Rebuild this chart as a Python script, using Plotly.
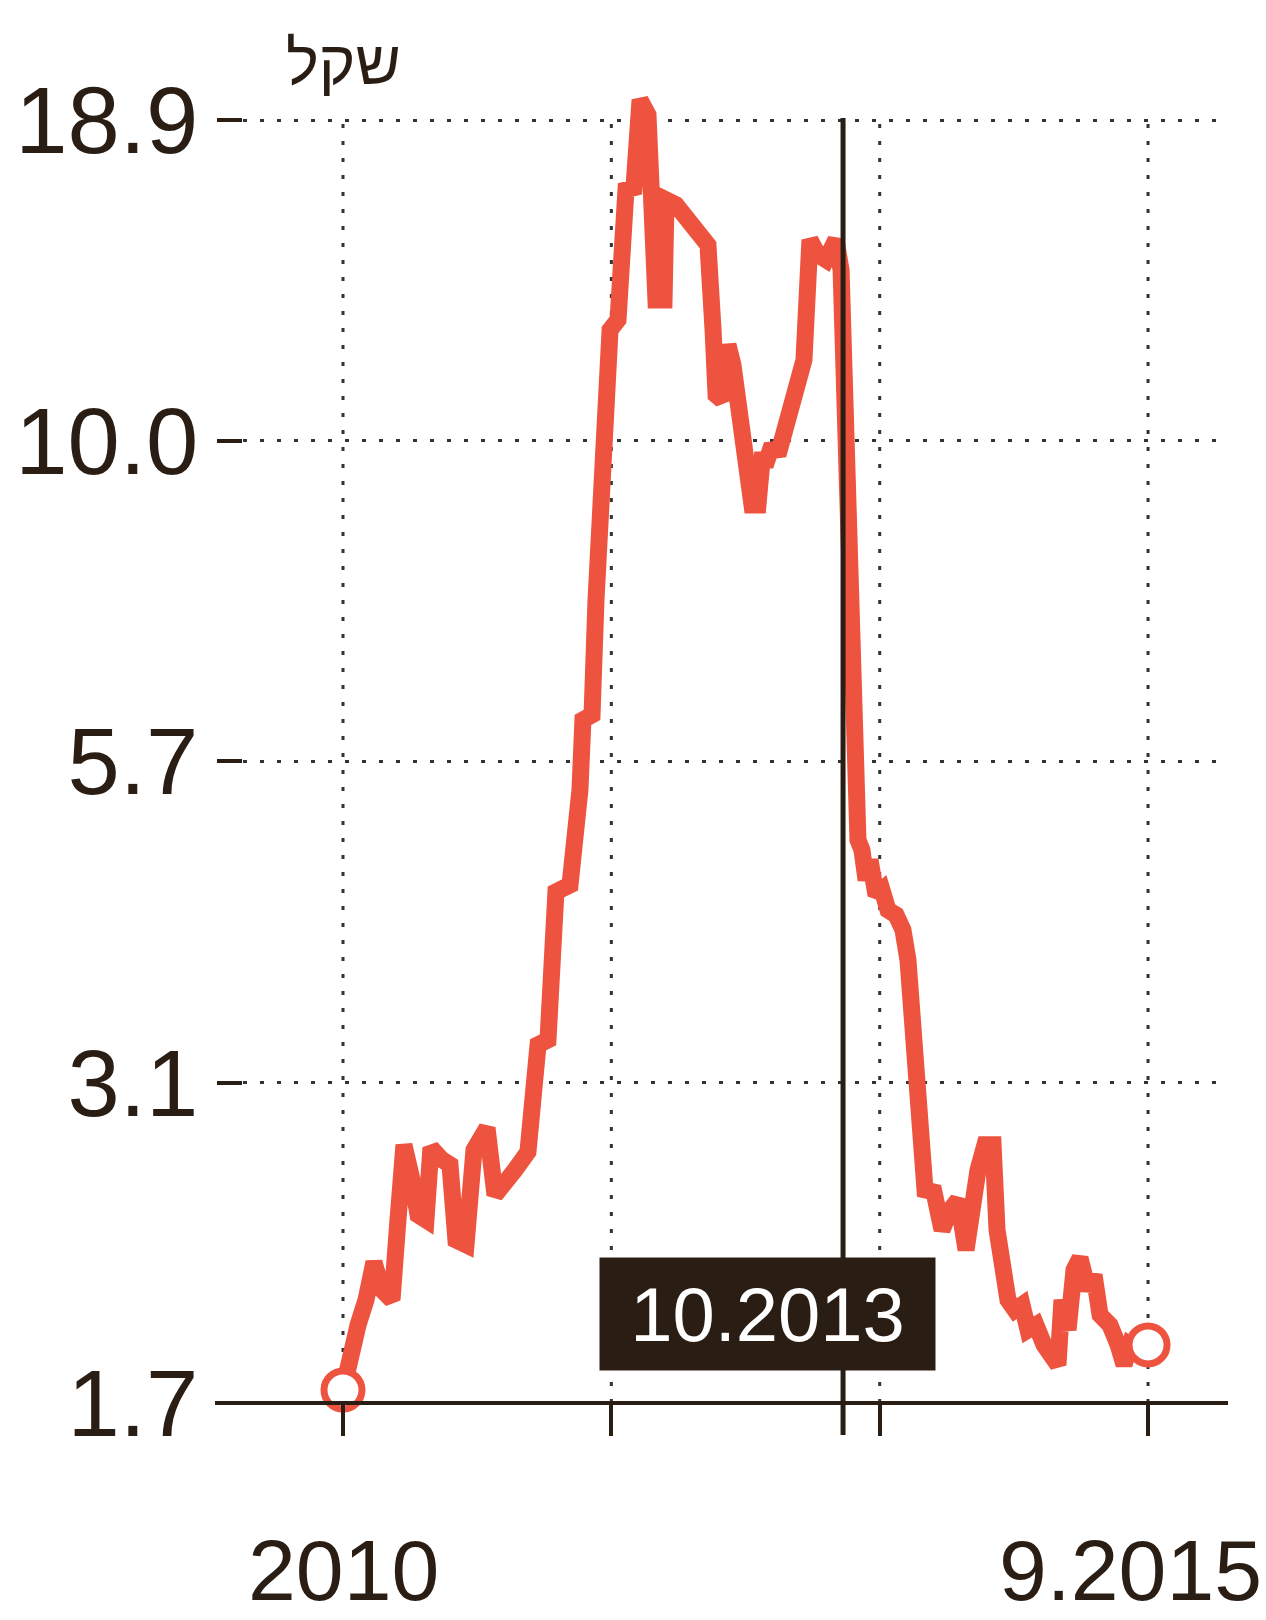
import plotly.graph_objects as go

# ---- data ----
years = [2010.000, 2010.056, 2010.106, 2010.162, 2010.218, 2010.275, 2010.345, 2010.387, 2010.429, 2010.486,
         2010.528, 2010.584, 2010.619, 2010.697, 2010.753, 2010.795, 2010.866, 2010.922, 2010.964, 2011.014,
         2011.070, 2011.140, 2011.211, 2011.302, 2011.345, 2011.373, 2011.443, 2011.478, 2011.499, 2011.598,
         2011.640, 2011.668, 2011.689, 2011.753, 2011.781, 2011.809, 2011.830, 2011.858, 2011.880, 2011.936,
         2011.964, 2011.992, 2012.048, 2012.091, 2012.147, 2012.175, 2012.203, 2012.260, 2012.274, 2012.344,
         2012.400, 2012.457, 2012.513, 2012.569, 2012.605, 2012.626, 2012.668, 2012.710, 2012.745, 2012.781,
         2012.830, 2012.879, 2012.921, 2012.950, 2012.985, 2013.020, 2013.062, 2013.104, 2013.147, 2013.203,
         2013.245, 2013.287, 2013.344, 2013.400, 2013.470, 2013.506, 2013.534, 2013.555, 2013.576, 2013.597,
         2013.625, 2013.653, 2013.682, 2013.710, 2013.752, 2013.794, 2013.836, 2013.893, 2013.942, 2013.977,
         2014.005, 2014.034, 2014.062, 2014.097, 2014.160, 2014.217, 2014.273, 2014.329, 2014.386, 2014.428,
         2014.470, 2014.519, 2014.576, 2014.604, 2014.639, 2014.681, 2014.730, 2014.780, 2014.822, 2014.878,
         2014.935, 2014.991, 2015.033, 2015.061, 2015.104, 2015.146, 2015.188, 2015.244, 2015.287, 2015.329,
         2015.399, 2015.456, 2015.498, 2015.540, 2015.596, 2015.667]

price = [1.742, 1.896, 1.968, 2.063, 2.215, 2.102, 2.063, 2.397, 2.760, 2.584,
         2.420, 2.397, 2.745, 2.684, 2.659, 2.309, 2.288, 2.734, 2.796, 2.849,
         2.512, 2.559, 2.633, 2.724, 3.117, 3.330, 3.361, 3.979, 4.437, 4.496,
         4.984, 5.374, 6.129, 6.187, 7.677, 8.920, 9.798, 10.762, 12.745, 12.986,
         14.263, 16.577, 16.639, 19.628, 19.083, 16.577, 13.481, 13.481, 16.268, 16.116,
         15.816, 15.522, 15.234, 14.951, 12.745, 11.279, 11.174, 12.391, 11.934, 10.966,
         10.365, 9.175, 9.175, 9.983, 9.983, 10.268, 10.077, 10.562, 10.762, 11.493,
         12.047, 15.092, 14.673, 14.536, 15.092, 14.263, 11.174, 8.920, 6.988, 5.685,
         4.892, 4.801, 4.538, 4.711, 4.412, 4.454, 4.290, 4.250, 4.131, 3.905,
         3.489, 3.003, 2.633, 2.536, 2.526, 2.352, 2.442, 2.489, 2.266, 2.536,
         2.633, 2.760, 2.760, 2.352, 2.142, 2.063, 2.025, 2.044, 1.950, 1.968,
         1.896, 1.843, 1.826, 2.063, 1.950, 2.183, 2.232, 2.102, 2.162, 2.006,
         1.968, 1.896, 1.826, 1.896, 1.878, 1.896]

y_tick_vals = [1.7, 3.1, 5.67, 10.35, 18.9]
y_tick_text = ["1.7", "3.1", "5.7", "10.0", "18.9"]
x_grid_vals = [2010.0, 2011.889, 2013.778, 2015.667]
x_label_vals = [2010.0, 2015.667]
x_label_text = ["2010", "9.2015"]
event_year = 2013.52
event_label = "10.2013"
unit_label = "שקל"

RED = "#EE5340"
DARK = "#2a1d14"
FONT = "Liberation Sans, Arial, Helvetica, sans-serif"

fig = go.Figure()
fig.add_trace(go.Scatter(
    x=years, y=price, mode="lines",
    line=dict(color=RED, width=17),
    hoverinfo="skip", showlegend=False,
))
fig.add_trace(go.Scatter(
    x=[years[0], years[-1]], y=[price[0], price[-1]], mode="markers",
    marker=dict(size=38, color="white", line=dict(color=RED, width=7)),
    cliponaxis=False, hoverinfo="skip", showlegend=False,
))

shapes = []
# vertical dotted gridlines (stop at the top gridline)
for xv in x_grid_vals:
    shapes.append(dict(type="line", xref="x", yref="paper", x0=xv, x1=xv, y0=0, y1=0.977,
                       line=dict(color="#333", width=3, dash="4px,13px"), layer="below"))
# base axis line extending left
shapes.append(dict(type="line", xref="paper", yref="paper", x0=-0.0284, x1=1, y0=0, y1=0,
                   line=dict(color=DARK, width=4), layer="above"))
# event line
shapes.append(dict(type="line", xref="x", yref="paper", x0=event_year, x1=event_year,
                   y0=-0.0244, y1=0.9787, line=dict(color=DARK, width=5), layer="above"))

annotations = [
    dict(x=2012.985, y=0.0678, xref="x", yref="paper", text=event_label, showarrow=False,
         xanchor="center", yanchor="middle", bgcolor=DARK, borderpad=10, width=315, height=92,
         font=dict(size=76, color="white", family=FONT)),
    dict(x=2010.0, y=1.0213, xref="x", yref="paper", text=unit_label, showarrow=False,
         xanchor="center", yanchor="middle", font=dict(size=62, color=DARK, family=FONT)),
]
# x-axis labels (last one nudged left so it stays inside the page)
for xv, txt, shift in zip(x_label_vals, x_label_text, [0, -18]):
    annotations.append(dict(x=xv, y=-0.127, xref="x", yref="paper", text=txt, showarrow=False,
                            xanchor="center", yanchor="middle", xshift=shift,
                            font=dict(size=86, color=DARK, family=FONT)))

fig.update_layout(
    width=1266, height=1620,
    margin=dict(l=243, r=38, t=90, b=217),
    paper_bgcolor="white", plot_bgcolor="white",
    font=dict(family=FONT, color=DARK, size=88),
    shapes=shapes,
    hovermode=False,
    xaxis=dict(
        range=[2009.2961, 2016.2298], tickmode="array", tickvals=x_grid_vals,
        showticklabels=False,
        showgrid=False, zeroline=False, showline=False, automargin=False,
        ticks="outside", ticklen=32, tickwidth=4, tickcolor=DARK,
    ),
    yaxis=dict(
        type="log", range=[0.23045, 1.30092], tickmode="array",
        tickvals=y_tick_vals, ticktext=y_tick_text,
        showgrid=True, gridcolor="#333", gridwidth=3, griddash="4px,13px",
        zeroline=False, showline=False, automargin=False,
        ticks="outside", ticklen=25, tickwidth=4, tickcolor=DARK,
        ticklabelstandoff=0, ticklabeloverflow="allow",
        tickfont=dict(size=94, color=DARK, family=FONT),
    ),
    annotations=annotations,
)

fig.write_html(
    "out.html",
    config={"displayModeBar": False, "staticPlot": True},
    post_script="document.body.style.margin='0';document.body.style.overflow='hidden';",
)
